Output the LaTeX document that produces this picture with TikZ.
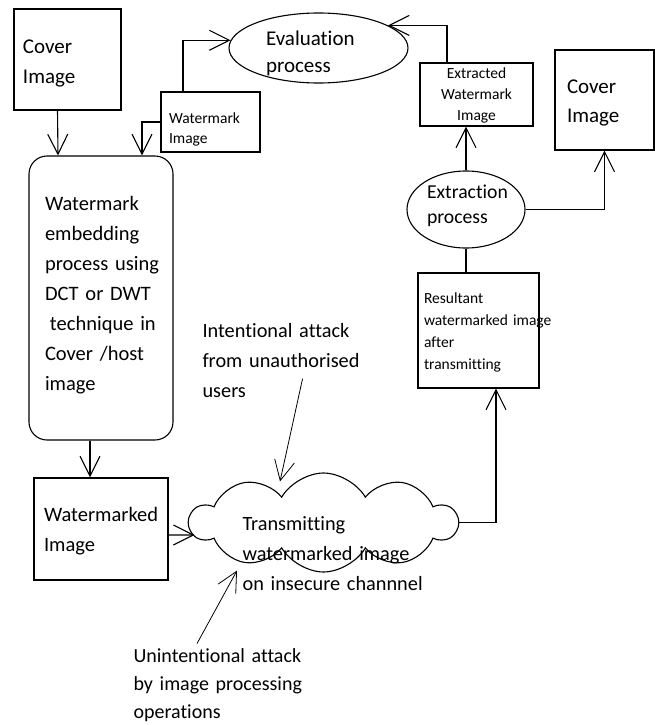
\documentclass[tikz,border=0pt]{standalone}
\usepackage{fontspec}
\setmainfont{Carlito}[Ligatures=NoCommon]
\usetikzlibrary{arrows.meta,shapes.geometric,shapes.symbols,calc}
\hyphenpenalty=10000
\exhyphenpenalty=10000

\begin{document}
\begin{tikzpicture}[x=1pt, y=-1pt, line width=1.1pt,
    >={Straight Barb[length=20pt,width=20pt]},
    box/.style={draw, rectangle, inner sep=0pt, align=left, text height=0pt},
    oval/.style={draw, ellipse, inner sep=0pt, align=left, text height=0pt},
    txt/.style={inner sep=0pt, align=left, anchor=base west}]
    \useasboundingbox (0,0) rectangle (655,725);
    \node[box, minimum width=107pt, minimum height=101pt, text width=89pt, text depth=11pt,
        font={\fontsize{21pt}{30pt}\selectfont}] (coverL) at (67.5,59.5) {Cover\\Image};
    \node[box, minimum width=99pt, minimum height=60pt, text width=83pt, text height=2pt, text depth=0pt,
        font={\fontsize{15.5pt}{20pt}\selectfont}] (wmimg) at (210.5,122) {Watermark\\Image};
    \node[oval, minimum width=179pt, minimum height=70pt, text width=105pt, text depth=4pt,
        font={\fontsize{21pt}{27pt}\selectfont}] (evalp) at (318.5,48) {Evaluation\\process};
    \node[box, align=center, minimum width=113pt, minimum height=63pt, text width=100pt, text depth=33pt,
        font={\fontsize{15.5pt}{21pt}\selectfont}] (extr) at (476.5,94.5) {Extracted\\Watermark\\Image};
    \node[box, minimum width=99pt, minimum height=100pt, text width=75pt, text depth=14pt,
        font={\fontsize{21pt}{29pt}\selectfont}] (coverR) at (604.5,100) {Cover\\Image};
    \node[oval, minimum width=118pt, minimum height=77pt, text width=78pt, text depth=23pt,
        font={\fontsize{19.7pt}{25pt}\selectfont}] (extp) at (466,209.5) {Extraction\\process};
    \node[box, minimum width=121pt, minimum height=115pt, text width=109pt, text depth=55pt,
        font={\fontsize{15.5pt}{22pt}\selectfont}] (resul) at (478.5,330.5)
        {Resultant\\\mbox{watermarked image}\\after\\transmitting};
    \node[box, rounded corners=18pt, minimum width=144pt, minimum height=284pt, text width=112pt, text depth=176pt,
        font={\fontsize{20.5pt}{30pt}\selectfont}] (embed) at (101,298)
        {Watermark\\embedding\\\mbox{process using}\\\mbox{DCT or DWT}\\\hspace*{5pt}\mbox{technique in}\\\mbox{Cover /host}\\image};
    \node[box, minimum width=134pt, minimum height=102pt, text width=114pt, text depth=16pt,
        font={\fontsize{20.5pt}{30pt}\selectfont}] (wmked) at (101,529) {Watermarked\\Image};
    \node[draw, cloud, cloud puffs=10, cloud puff arc=120, cloud ignores aspect, inner sep=0pt,
        minimum width=267pt, minimum height=99pt] (chan) at (323.5,522.5) {};
    \node[txt, text width=190pt, font={\fontsize{20.3pt}{30pt}\selectfont}] (chantxt) at (242,530)
        {Transmitting\\watermarked image\\on insecure channnel};
    \node[txt, text width=200pt, font={\fontsize{20.3pt}{30pt}\selectfont}] (intent) at (202,337)
        {Intentional attack\\from unauthorised\\users};
    \node[txt, text width=200pt, font={\fontsize{20pt}{28pt}\selectfont}] (unint) at (133,662)
        {Unintentional attack\\by image processing\\operations};

    \draw[->] ($(coverL.south)+(-10,0)$) -- ($(embed.north)+(-43,0)$);
    \draw[->] (wmimg.west) -| ($(embed.north)+(41,0)$);
    \draw[->] ($(wmimg.north)+(-27.5,0)$) |- (evalp.175);
    \draw[->] ($(extr.north)+(-29.5,0)$) |- (evalp.18);
    \draw[->] (extp.north) -- (extp.north |- extr.south);
    \draw[->] (extp.east) -| (coverR.south);
    \draw (resul.north -| extp.south) -- (extp.south);
    \draw[->] (chan.east) -| ($(resul.south)+(17.5,0)$);
    \draw[->] ($(embed.south)+(-11,0)$) -- ($(wmked.north)+(-11,0)$);
    \draw[->] ($(wmked.east)+(0,6)$) -- ($(chan.west)+(7,12.5)$);
    \draw[->, line width=0.8pt] ($(intent.south)+(0,-19)$) -- ($(chan.north)+(-43.5,9)$);
    \draw[->, line width=0.8pt] ($(unint.north west)+(64,-4)$) -- ($(chan.south)+(-86.5,-2)$);
\end{tikzpicture}
\end{document}
